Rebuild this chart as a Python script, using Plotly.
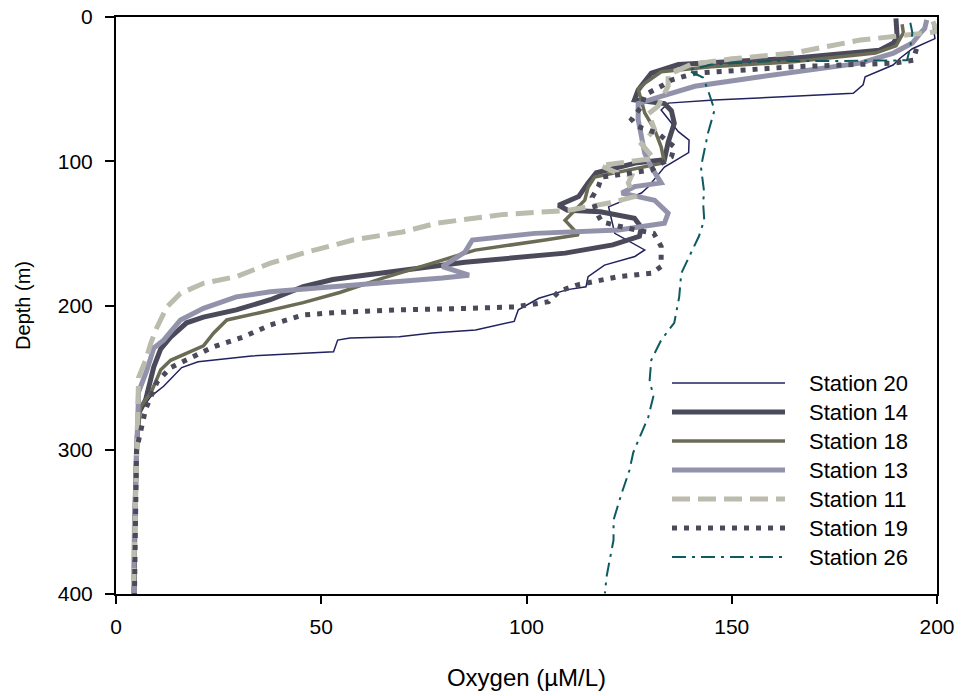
import plotly.graph_objects as go

# ---------------- data (oxygen µM/L, depth m) ----------------
ox20 = [199, 199.5, 194, 191, 189.3, 182.5, 182, 179.6, 165, 145.7, 134.5, 132.8, 137, 139.6, 139.5,
        133.6, 129.6, 128, 120, 121.5, 128.8, 126.4, 119, 115, 114.5, 110, 103, 98, 97, 87.6, 77, 69,
        57, 54, 53, 33, 20, 16, 11.6, 8.5, 5.5, 5, 4.5, 4.2]
d20 = [5, 15, 22, 28.6, 33.3, 41.4, 47, 52.9, 55, 57.5, 59.7, 64.5, 79.5, 85.3, 94,
       104, 117.8, 122, 131.6, 150, 161.5, 166, 172, 180, 187, 189, 195, 203, 211, 217, 219, 221.6,
       222.5, 224, 232, 235, 239, 243, 256, 263, 275, 300, 350, 400]

ox14 = [190, 190.3, 189.4, 186, 165, 149, 137, 130.4, 127.2, 126.3, 133.6, 135.3, 136, 134.5, 133.6,
        127, 117, 115, 112.7, 107.8, 110, 118, 126.3, 128, 127.5, 121, 109.4, 85, 69, 57.7, 52.8,
        45.6, 37.6, 29.3, 21.3, 17.2, 13.3, 10.9, 9.2, 8, 7.2, 5.5, 5, 4.6, 4.4]
d14 = [1, 14, 18, 23, 28.6, 31, 33, 39, 50.6, 57.5, 60, 65, 73.7, 87, 99,
       101, 108, 115, 124.5, 130.5, 134, 135, 139.5, 146, 152, 158, 163.7, 170, 175.5, 180, 182,
       187, 196, 203, 208, 212, 222, 230, 242.6, 258.6, 265.5, 275, 300, 350, 400]

ox18 = [191.5, 191.8, 190, 185, 165, 145, 132.8, 128.8, 127.2, 128.8, 131.2, 132.8, 133.6, 124.8,
        116.6, 115, 114.2, 109.4, 111, 112.7, 104.5, 87.5, 79.5, 65, 54.5, 45.6, 35, 27, 23.8, 21.3,
        13.3, 10.9, 8.5, 6, 5, 4.6, 4.4]
d18 = [5, 11, 20, 25, 31, 34.5, 38, 46, 50, 66.5, 78, 90, 101, 106,
       111, 118, 127, 141, 146, 151, 154.6, 161.6, 168.5, 181, 191, 198, 205, 210, 219, 228,
       238, 244.6, 260.6, 270, 300, 350, 400]

ox13 = [197.5, 197, 196, 194, 189.4, 181.3, 157, 141, 132.8, 127.2, 127.2, 128.8, 130.4, 132.8,
        126.3, 123.2, 126.3, 131.2, 134.5, 133.6, 122.4, 102, 86.8, 85, 79.5, 86, 79.5, 52.8, 45.6,
        37.6, 29.3, 21.3, 15.7, 11.6, 9.2, 7.5, 5.5, 5, 4.5, 4.3]
d13 = [2, 8, 11, 18, 25, 32, 41.4, 48, 55, 60, 71, 94.5, 104, 115,
       117.6, 122, 124, 127, 136, 143, 147.7, 150, 154.6, 163, 173, 179, 181, 187, 188,
       190.5, 194, 202, 210, 224, 229.5, 245, 260, 300, 350, 400]

ox11 = [199, 200, 197.5, 181.3, 165, 150, 140, 134.5, 134.5, 132, 129.7, 131.2, 128, 131, 118,
        122, 125.6, 124.8, 126.3, 120, 110.3, 94, 78, 69.8, 57.7, 45.6, 37.6, 29.3, 21.3, 15.7,
        12.4, 10, 8.5, 7.2, 5.5, 5, 4.5, 4.2]
d11 = [3, 10, 11, 16, 25, 29, 33, 40, 48, 62, 67, 78, 88, 98, 103,
       108, 110, 115, 124.5, 129, 134, 137, 143, 149, 154.6, 163.7, 170.7, 180, 184.6, 191.6,
       201, 215, 226, 238, 250, 300, 350, 400]

ox19 = [195, 194.2, 189.4, 165, 141, 135.3, 132.8, 128.8, 128, 125.6, 127.2, 132, 136, 135.3,
        130.4, 124.8, 118.3, 117.5, 116, 117, 118.3, 124, 131, 132.8, 132.8, 130.4, 122.4, 112.7,
        108, 105.4, 97.2, 85, 69, 52.8, 45.6, 37.6, 31, 23.8, 20.6, 15.7, 13.3, 10, 7.2, 5, 4.7, 4.5]
d19 = [22, 30, 32, 34.5, 39, 43.7, 48, 54, 62, 71, 76, 80.6, 90, 97,
       106, 108, 111, 117.6, 125, 135, 142, 146, 150, 159, 173, 177.7, 180, 185.5,
       190, 197.4, 201, 202, 203, 205, 206.6, 213.5, 221.8, 228.6, 233, 239, 243, 253, 272, 300, 350, 400]

ox26 = [193.5, 194, 193.5, 192.7, 175, 160, 145, 139.4, 143, 144.2, 145.8, 144.2, 142.5, 143.3,
        143, 143.3, 142, 140, 137.7, 137.2, 136, 132.8, 130.4, 130, 130.9, 129.7, 128, 126,
        125.1, 123.2, 121.2, 121.2, 120.3, 119.5, 119.1]
d26 = [4, 11, 20.6, 30, 30.5, 30.5, 33, 37, 42, 50.6, 64.5, 80.6, 104, 122,
       128, 140.7, 152, 164, 177.7, 194, 212, 224, 237.8, 251.7, 263, 277, 288.6, 302,
       314, 330, 348.7, 362.6, 376, 388, 399.5]

stations = ["Station 20", "Station 14", "Station 18", "Station 13", "Station 11", "Station 19", "Station 26"]
xs = [ox20, ox14, ox18, ox13, ox11, ox19, ox26]
ys = [d20, d14, d18, d13, d11, d19, d26]

x_ticks = [0, 50, 100, 150, 200]
y_ticks = [0, 100, 200, 300, 400]

# ---------------- styles ----------------
styles = [
    dict(color="#22225e", width=1.5, dash="solid"),
    dict(color="#4a4a5a", width=5, dash="solid"),
    dict(color="#6c6c56", width=3.5, dash="solid"),
    dict(color="#9292aa", width=5, dash="solid"),
    dict(color="#bbbbae", width=5, dash="18px,8px"),
    dict(color="#4a4a5a", width=5, dash="5px,7px"),
    dict(color="#0d5a60", width=2, dash="14px,6px,3px,6px"),
]

FONT = "Arial, Liberation Sans, sans-serif"

fig = go.Figure()
for name, x, y, st in zip(stations, xs, ys, styles):
    fig.add_trace(go.Scatter(x=x, y=y, mode="lines", name=name, line=st, showlegend=False))

# ---------------- manual legend ----------------
L, R, T, B = 116, 937, 17, 594
pw, ph = R - L, B - T
leg_rows = [383, 412, 441, 470, 499, 528, 557]
for name, st, py in zip(stations, styles, leg_rows):
    yp = (B - py) / ph
    fig.add_shape(type="line", xref="paper", yref="paper",
                  x0=(672 - L) / pw, x1=(785 - L) / pw, y0=yp, y1=yp,
                  line=dict(color=st["color"], width=st["width"], dash=st["dash"]))
    fig.add_annotation(xref="paper", yref="paper", x=(807 - L) / pw, y=yp,
                       text=name, showarrow=False, xanchor="left", yanchor="middle",
                       font=dict(family=FONT, size=22, color="black"))

tick_font = dict(family=FONT, size=21, color="black")
fig.update_layout(
    width=963, height=696,
    margin=dict(l=L, r=963 - R, t=T, b=696 - B),
    paper_bgcolor="white", plot_bgcolor="white",
    font=dict(family=FONT, color="black"),
)
fig.update_xaxes(
    range=[0, 200], tickvals=x_ticks, ticks="outside", ticklen=8, tickwidth=2, tickcolor="black",
    showline=True, linecolor="black", linewidth=2, mirror=True, showgrid=False, zeroline=False,
    ticklabelstandoff=5, automargin=False,
    title=dict(text="Oxygen (µM/L)", font=dict(family=FONT, size=24, color="black"), standoff=32),
    tickfont=tick_font,
)
fig.update_yaxes(
    range=[400, 0], tickvals=y_ticks, ticks="outside", ticklen=9, tickwidth=2, tickcolor="black",
    showline=True, linecolor="black", linewidth=2, mirror=True, showgrid=False, zeroline=False,
    ticklabelstandoff=8, automargin=False,
    title=dict(text="Depth (m)", font=dict(family=FONT, size=20, color="black"), standoff=22),
    tickfont=tick_font,
)

fig.write_html("out.html")
